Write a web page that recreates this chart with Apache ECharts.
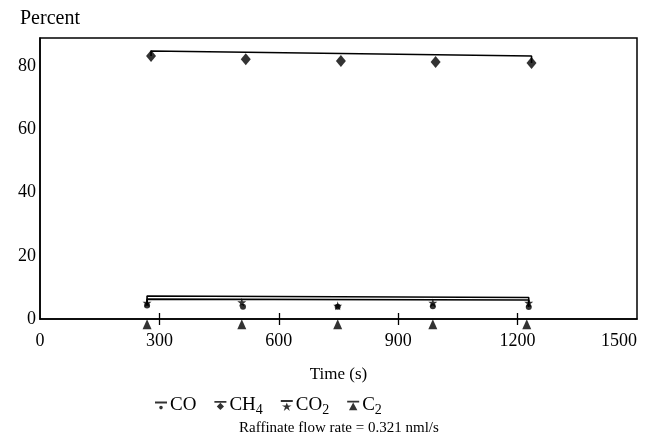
<!DOCTYPE html>
<html><head><meta charset="utf-8">
<script src="https://cdn.jsdelivr.net/npm/echarts@6/dist/echarts.min.js"></script>
<style>html,body{margin:0;padding:0;background:#fff}#c{width:648px;height:446px}</style>
</head><body><div id="c"></div>
<script>
// ---- data ----
const xTicks = [0, 300, 600, 900, 1200, 1500];
const yTicks = [0, 20, 40, 60, 80];
const timeCO  = [269, 510, 748, 987, 1228];
const valCO   = [4.3, 3.9, 3.9, 4.0, 3.8];
const fitCO   = [6.3, 6.0];
const timeCH4 = [279, 517, 756, 994, 1235];
const valCH4  = [83.3, 82.3, 81.7, 81.4, 81.1];
const fitCH4  = [84.9, 83.3];
const timeCO2 = [269, 507, 748, 987, 1228];
const valCO2  = [5.1, 5.3, 4.2, 5.1, 5.1];
const fitCO2  = [7.3, 6.8];
const timeC2  = [269, 507, 748, 987, 1223];
const valC2   = [-1.7, -1.7, -1.7, -1.7, -1.7];

const FONT = 'Liberation Serif';
const starPath = 'path://M50,0 L61,35 L98,35 L68,57 L79,91 L50,70 L21,91 L32,57 L2,35 L39,35 Z';
function pts(t, v) { return t.map((x, i) => [x, v[i]]); }
function fit(t, v, f) {
  const n = t.length - 1;
  return [[t[0], v[0]], [t[0], f[0]], [t[n], f[1]], [t[n], v[n]]];
}
const icoCO  = 'path://M0,0 L20,0 L20,3 L0,3 Z M7,10 A3,3 0 1 1 13,10 A3,3 0 1 1 7,10 Z';
const icoCH4 = 'path://M0,0 L20,0 L20,3 L0,3 Z M10,3 L16,9 L10,15 L4,9 Z';
const icoCO2 = 'path://M0,0 L20,0 L20,3 L0,3 Z M10,4 L12,9 L18,9 L13,12 L15,18 L10,14 L5,18 L7,12 L2,9 L8,9 Z';
const icoC2  = 'path://M0,0 L20,0 L20,3 L0,3 Z M10,3 L17,16 L3,16 Z';

const chart = echarts.init(document.getElementById('c'), null, {renderer: 'canvas'});
const lineStyle = {color: '#000', width: 1.6};
chart.setOption({
  animation: false,
  backgroundColor: '#fff',
  textStyle: {fontFamily: FONT, color: '#000'},
  grid: {left: 40, right: 11, top: 38, bottom: 127, show: true, borderColor: '#000', borderWidth: 1.5,
         containLabel: false, outerBoundsMode: 'none'},
  graphic: [
    {type: 'text', left: 20, top: 9, style: {text: 'Percent', font: '20px "Liberation Serif"', fill: '#000'}},
    {type: 'text', left: 239, top: 421, style: {text: 'Raffinate flow rate = 0.321 nml/s', font: '15px "Liberation Serif"', fill: '#000'}}
  ],
  xAxis: [{
    type: 'value', min: 0, max: 1500, interval: 300,
    name: 'Time (s)', nameLocation: 'middle', nameGap: 47,
    nameTextStyle: {fontFamily: FONT, fontSize: 17, color: '#000'},
    axisLine: {show: true, onZero: false, lineStyle: {color: '#000', width: 1.5}},
    axisTick: {show: true, inside: true, length: 6, lineStyle: {color: '#000', width: 1.3}, customValues: [300, 600, 900, 1200]},
    axisLabel: {fontFamily: FONT, fontSize: 18, color: '#000', margin: 13, customValues: xTicks,
      formatter: v => String(v), alignMaxLabel: 'right'},
    splitLine: {show: false}
  }, {
    type: 'value', min: 0, max: 1500, position: 'bottom',
    axisLine: {show: false},
    axisTick: {show: true, inside: false, length: 6, lineStyle: {color: '#000', width: 1.3}, customValues: [300, 600, 900, 1200]},
    axisLabel: {show: false}, splitLine: {show: false}
  }],
  yAxis: {
    type: 'value', min: 0, max: 89,
    axisLine: {show: true, lineStyle: {color: '#000', width: 1.5}},
    axisTick: {show: false},
    axisLabel: {fontFamily: FONT, fontSize: 18, color: '#000', margin: 4, customValues: yTicks, formatter: v => String(v)},
    splitLine: {show: false}
  },
  legend: {
    top: 391, left: 150, itemGap: 18, itemWidth: 12, itemHeight: 11,
    data: [
      {name: 'CO', icon: icoCO}, {name: 'CH4', icon: icoCH4},
      {name: 'CO2', icon: icoCO2}, {name: 'C2', icon: icoC2}
    ],
    formatter: n => ({CO: 'CO', CH4: 'CH{s|4}', CO2: 'CO{s|2}', C2: 'C{s|2}'}[n]),
    textStyle: {fontFamily: FONT, fontSize: 19, color: '#000', padding: [0, 0, 0, -2],
      rich: {s: {fontFamily: FONT, fontSize: 14, color: '#000', verticalAlign: 'bottom', padding: [9, 0, 0, 0]}}},
    itemStyle: {color: '#000'}
  },
  series: [
    {name: 'CH4fit', type: 'line', data: fit(timeCH4, valCH4, fitCH4), symbol: 'none', lineStyle, silent: true},
    {name: 'COfit', type: 'line', data: fit(timeCO, valCO, fitCO), symbol: 'none', lineStyle, silent: true},
    {name: 'CO2fit', type: 'line', data: fit(timeCO2, valCO2, fitCO2), symbol: 'none', lineStyle, silent: true},
    {name: 'CO', type: 'scatter', data: pts(timeCO, valCO), symbol: 'circle', symbolSize: 6, itemStyle: {color: '#000'}},
    {name: 'CH4', type: 'scatter', data: pts(timeCH4, valCH4), symbol: 'diamond', symbolSize: [10, 12], itemStyle: {color: '#000'}},
    {name: 'CO2', type: 'scatter', data: pts(timeCO2, valCO2), symbol: starPath, symbolSize: 9, itemStyle: {color: '#000'}},
    {name: 'C2', type: 'scatter', data: pts(timeC2, valC2), symbol: 'triangle', symbolSize: [9, 10], clip: false, itemStyle: {color: '#000'}}
  ]
});
</script></body></html>
